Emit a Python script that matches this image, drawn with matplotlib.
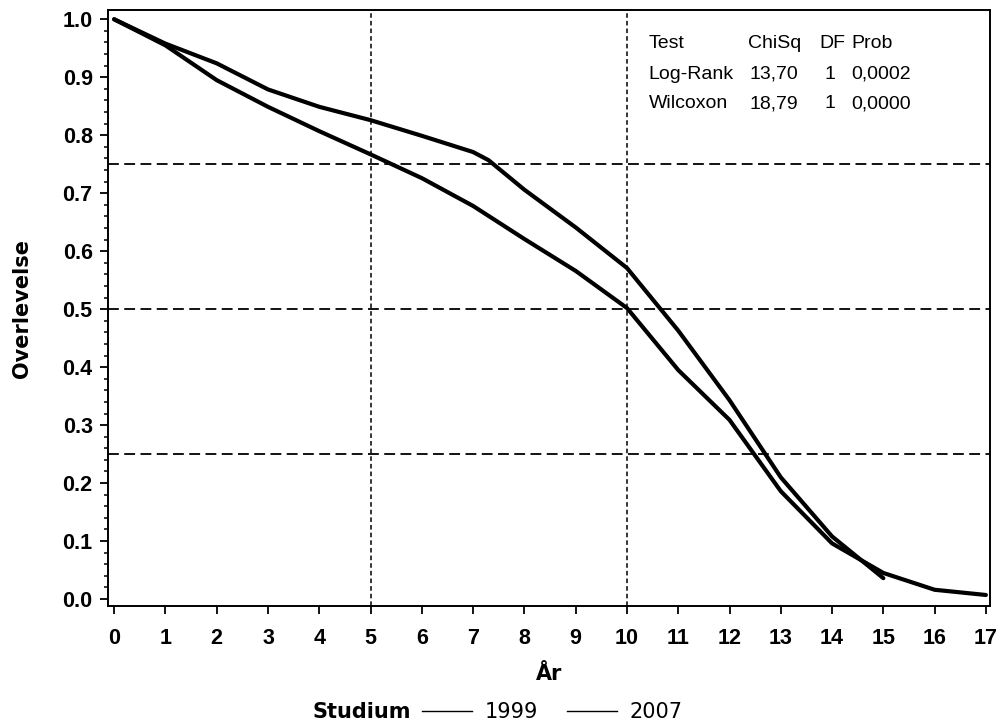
import matplotlib
matplotlib.use("Agg")
import matplotlib.pyplot as plt
from matplotlib.lines import Line2D
from matplotlib.ticker import MultipleLocator
import numpy as np

# survival curves
years_1999 = [0, 1, 2, 3, 4, 5, 6, 7, 7.3, 8, 9, 10, 11, 12, 13, 14, 15]
surv_1999 = [1.0, 0.958, 0.924, 0.879, 0.849, 0.826, 0.799, 0.771, 0.757, 0.706,
             0.641, 0.571, 0.463, 0.343, 0.21, 0.108, 0.036]

years_2007 = [0, 1, 2, 3, 4, 5, 6, 7, 8, 9, 10, 11, 12, 13, 14, 15, 16, 17]
surv_2007 = [1.0, 0.955, 0.895, 0.849, 0.807, 0.767, 0.726, 0.678, 0.621, 0.566,
             0.502, 0.395, 0.309, 0.186, 0.096, 0.045, 0.016, 0.007]

ref_x = [5, 10]
ref_y = [0.25, 0.5, 0.75]

table_rows = [
    ["Test", "ChiSq", "DF", "Prob"],
    ["Log-Rank", "13,70", "1", "0,0002"],
    ["Wilcoxon", "18,79", "1", "0,0000"],
]
col_x = [0.613, 0.726, 0.807, 0.843]  # axes fraction

W, H = 1001, 727
fig = plt.figure(figsize=(W / 100, H / 100), dpi=100)
ax = fig.add_axes([108 / W, 1 - 606 / H, (990 - 108) / W, (606 - 10) / H])

for xv in ref_x:
    ax.axvline(xv, color="black", lw=1.1, ls=(0, (3, 2)), zorder=1)
for yv in ref_y:
    ax.axhline(yv, color="black", lw=1.3, ls=(0, (6, 3)), zorder=1)

ax.plot(years_1999, surv_1999, color="black", lw=3, solid_capstyle="round",
        solid_joinstyle="round", zorder=3)
ax.plot(years_2007, surv_2007, color="black", lw=3, solid_capstyle="round",
        solid_joinstyle="round", zorder=3)

ax.set_xlim(-0.12, 17.08)
ax.set_ylim(-0.012, 1.016)
ax.set_xticks(range(0, 18))
ax.yaxis.set_major_locator(MultipleLocator(0.1))
ax.yaxis.set_minor_locator(MultipleLocator(0.02))
ax.set_yticklabels([f"{v:.1f}" for v in ax.get_yticks()])

ax.tick_params(axis="both", which="major", direction="out", length=6, width=1.3,
               labelsize=15.5)
ax.tick_params(axis="x", which="major", pad=10)
ax.tick_params(axis="y", which="major", pad=5)
ax.tick_params(axis="y", which="minor", direction="out", length=3, width=1.1)
for lab in ax.get_xticklabels() + ax.get_yticklabels():
    lab.set_fontfamily("Liberation Sans")
    lab.set_fontweight("bold")
for sp in ax.spines.values():
    sp.set_linewidth(1.4)

ax.set_xlabel("År", fontsize=15, fontweight="bold", family="DejaVu Sans", labelpad=11)
ax.set_ylabel("Overlevelse", fontsize=15, fontweight="bold", family="DejaVu Sans",
              labelpad=22)

# test statistics table in the upper right
row_y = [0.944, 0.892, 0.843]
for r, row in enumerate(table_rows):
    for c, txt in enumerate(row):
        x = col_x[c]
        if r > 0 and c == 1:
            x = 0.727
        if r > 0 and c == 2:
            x = 0.812
        ax.text(x, row_y[r], txt, transform=ax.transAxes, fontsize=14,
                family="Liberation Sans", ha="left", va="center")

# legend row underneath
fig.text(362 / W, 1 - 712 / H, "Studium", fontsize=15, fontweight="bold",
         family="DejaVu Sans", ha="center", va="center")
handles = [Line2D([], [], color="black", lw=1.0), Line2D([], [], color="black", lw=1.0)]
fig.legend(handles, ["1999", "2007"], ncol=2, frameon=False,
           loc="center left", bbox_to_anchor=(422 / W, 1 - 712 / H),
           prop={"family": "DejaVu Sans", "size": 15}, handlelength=2.4,
           handletextpad=0.6, columnspacing=1.4, borderpad=0, borderaxespad=0)

fig.savefig("out.png", dpi=100)
